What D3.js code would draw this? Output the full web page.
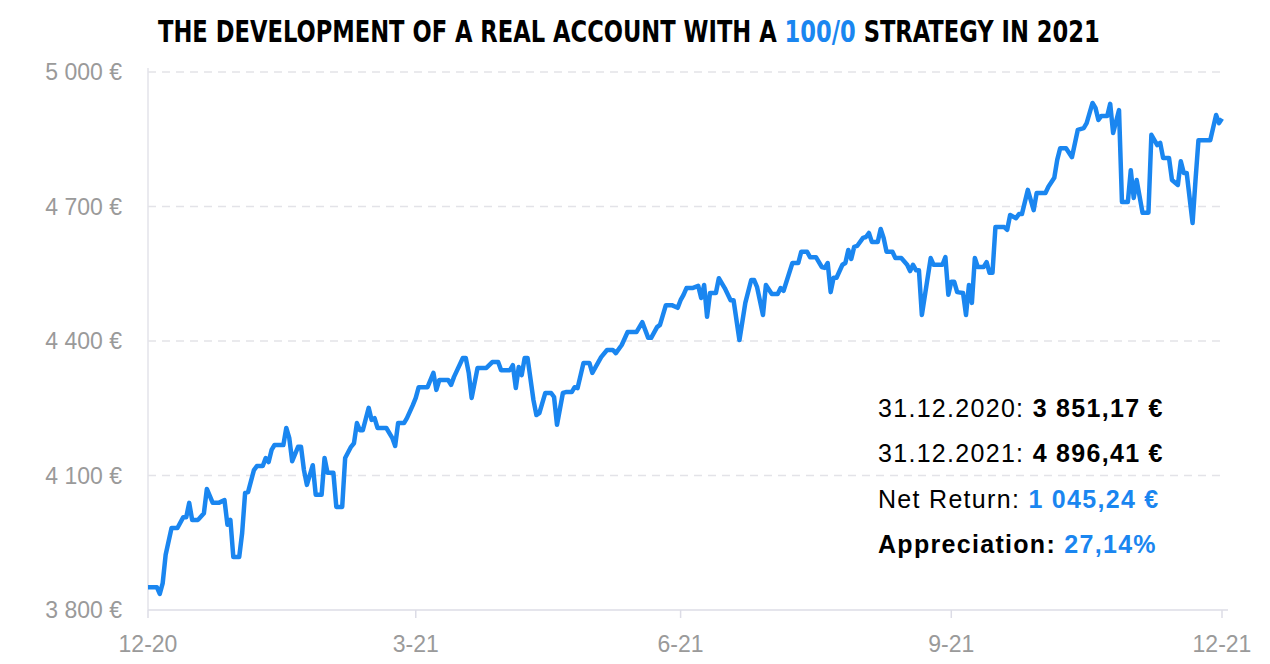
<!DOCTYPE html>
<html>
<head>
<meta charset="utf-8">
<script src="https://cdn.jsdelivr.net/npm/d3@7"></script>
<style>
  body { margin: 0; background: #fff; }
  text { font-family: "Liberation Sans", Arial, sans-serif; }
</style>
</head>
<body>
<svg id="chart"></svg>
<script>
let width = 1270,
    height = 664;

// days since 31.12.2020
const days = [0,3,4,5,6,8,10,12,13,14,15,17,19,20,22,24,26,27,28,29,31,32,33,34,36,37,39,40,41,42,43,46,47,48,49,51,52,53,54,56,57,59,60,61,63,64,66,67,69,70,71,72,73,75,76,77,78,81,83,84,85,87,88,90,91,92,
  95,97,98,99,102,103,104,107,108,109,110,112,115,117,119,120,123,124,125,126,127,128,129,131,132,133,135,137,138,139,141,142,144,145,146,148,150,151,154,156,158,159,161,163,166,168,170,171,173,174,176,178,180,181,182,183,
  185,187,188,189,190,191,193,194,196,198,199,201,203,205,206,207,209,210,212,214,215,216,219,221,222,224,225,227,229,230,231,232,233,234,236,237,238,239,240,241,243,244,245,246,248,249,250,251,253,254,256,258,259,260,261,262,263,266,267,270,271,272,273,274,275,277,278,279,
  280,281,282,284,285,286,287,288,291,292,293,295,296,297,299,301,302,305,306,308,309,310,312,314,316,318,319,321,322,323,324,326,327,328,330,331,333,334,335,336,338,340,341,343,344,345,347,348,350,351,352,353,355,356,357,361,363,364,365];
const values = [3851,3851,3836,3860,3923,3983,3983,4007,4007,4039,4001,4001,4016,4070,4039,4039,4045,3990,4001,3918,3918,3972,4061,4063,4112,4121,4121,4139,4130,4157,4168,4168,4206,4184,4132,4164,4164,4112,4079,4123,4057,4057,4139,4106,4106,4030,4030,4139,4164,4172,4217,4201,4201,4251,4224,4228,4206,4206,4184,4166,4217,4217,4228,4257,4273,4297,
  4297,4329,4291,4313,4313,4302,4320,4362,4362,4329,4273,4340,4340,4353,4353,4335,4335,4346,4295,4342,4324,4362,4362,4268,4235,4239,4284,4284,4275,4213,4284,4286,4286,4297,4295,4351,4351,4329,4364,4380,4380,4373,4391,4420,4420,4442,4407,4407,4431,4436,4480,4480,4474,4491,4503,4518,
  4518,4523,4496,4525,4454,4507,4507,4540,4518,4491,4491,4402,4485,4536,4536,4520,4458,4525,4505,4505,4518,4512,4574,4574,4599,4599,4587,4587,4565,4563,4574,4509,4541,4541,4570,4574,4603,4583,4610,4612,4630,4632,4641,4621,4621,4650,4630,4599,4599,4585,4585,4570,4556,4570,4558,4558,4458,4585,4570,4570,4587,4503,4532,4532,4509,4507,4458,4525,
  4485,4585,4565,4565,4576,4552,4552,4654,4654,4648,4681,4674,4683,4683,4737,4692,4730,4730,4744,4764,4804,4830,4830,4810,4871,4875,4886,4931,4920,4893,4902,4902,4929,4864,4915,4710,4710,4781,4719,4759,4686,4686,4860,4837,4842,4808,4808,4759,4748,4801,4775,4775,4663,4759,4848,4848,4904,4886,4896];

const yTicks = [3800, 4100, 4400, 4700, 5000];
const xTickDays = [0, 91, 181, 273, 365];
const xTickLabels = ['12-20', '3-21', '6-21', '9-21', '12-21'];

const blue = '#1a86f0';
const plotLeft = 148, plotRight = 1222, plotTop = 72, plotBottom = 610;

let svg = d3.select('svg#chart')
    .attr('width', width)
    .attr('height', height);

let x = d3.scaleLinear().domain([0, 365]).range([plotLeft, plotRight]);
let y = d3.scaleLinear().domain([3800, 5000]).range([plotBottom, plotTop]);

// grid
svg.selectAll('line.grid')
    .data(yTicks.slice(1))
    .join('line')
    .attr('x1', plotLeft).attr('x2', plotRight)
    .attr('y1', d => y(d)).attr('y2', d => y(d))
    .attr('stroke', '#e3e3e8')
    .attr('stroke-width', 1.5)
    .attr('stroke-dasharray', '8,6');

// axis lines
svg.append('line').attr('x1', plotLeft).attr('x2', plotLeft).attr('y1', plotTop - 4).attr('y2', plotBottom)
    .attr('stroke', '#e3e3ea').attr('stroke-width', 1.5);
svg.append('line').attr('x1', plotLeft).attr('x2', plotRight + 6).attr('y1', plotBottom).attr('y2', plotBottom)
    .attr('stroke', '#dcdce6').attr('stroke-width', 1.5);

// y labels
svg.selectAll('text.ylab')
    .data(yTicks)
    .join('text')
    .attr('x', 122)
    .attr('y', d => y(d) + 8)
    .attr('text-anchor', 'end')
    .attr('font-size', 23)
    .attr('fill', '#9a9a9a')
    .text(d => d3.format(',')(d).replace(',', ' ') + ' €');

// x ticks & labels
svg.selectAll('line.xtick')
    .data(xTickDays)
    .join('line')
    .attr('x1', d => x(d)).attr('x2', d => x(d))
    .attr('y1', plotBottom).attr('y2', plotBottom + 8)
    .attr('stroke', '#dcdce6').attr('stroke-width', 1.5);
svg.selectAll('text.xlab')
    .data(xTickDays)
    .join('text')
    .attr('x', d => x(d))
    .attr('y', 652)
    .attr('text-anchor', 'middle')
    .attr('font-size', 23)
    .attr('fill', '#9a9a9a')
    .text((d, i) => xTickLabels[i]);

// line
let pts = days.map((d, i) => [d, values[i]]);
svg.append('path')
    .datum(pts)
    .attr('d', d3.line().x(d => x(d[0])).y(d => y(d[1])))
    .attr('fill', 'none')
    .attr('stroke', blue)
    .attr('stroke-width', 4.5)
    .attr('stroke-linejoin', 'round');

// title, scaled to the reference width
let titleG = svg.append('g');
let title = titleG.append('text')
    .attr('x', 0).attr('y', 0)
    .attr('font-size', 31)
    .attr('font-weight', 'bold')
    .style('font-family', '"DejaVu Sans Condensed", "DejaVu Sans", sans-serif');
title.append('tspan').text('THE DEVELOPMENT OF A REAL ACCOUNT WITH A ');
title.append('tspan').attr('fill', blue).text('100/0');
title.append('tspan').text(' STRATEGY IN 2021');
let tw = title.node().getComputedTextLength();
titleG.attr('transform', `translate(158,42) scale(${942 / tw},1)`);

// annotation
const notes = [
    ['31.12.2020: ', '3 851,17 €', false, '#000'],
    ['31.12.2021: ', '4 896,41 €', false, '#000'],
    ['Net Return: ', '1 045,24 €', false, blue],
    ['Appreciation: ', '27,14%', true, blue]
];
notes.forEach((n, i) => {
    let t = svg.append('text')
        .attr('x', 878).attr('y', 417 + i * 45.3)
        .attr('font-size', 25)
        .attr('letter-spacing', 1.3);
    t.append('tspan').attr('font-weight', n[2] ? 'bold' : 'normal').attr('fill', '#000').text(n[0]);
    t.append('tspan').attr('font-weight', 'bold').attr('fill', n[3]).text(n[1]);
});
</script>
</body>
</html>
